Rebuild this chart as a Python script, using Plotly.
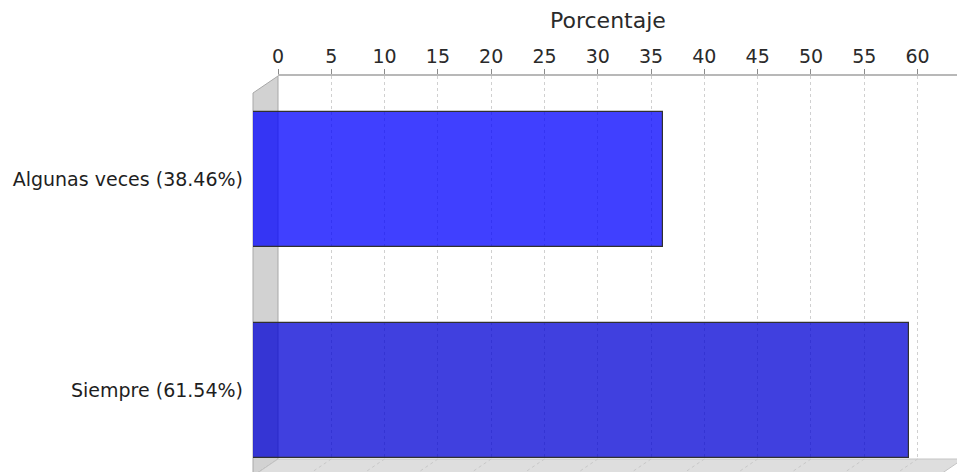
import plotly.graph_objects as go

# Survey answers and their share of responses (%)
answers = ["Algunas veces", "Siempre"]
shares = [38.46, 61.54]
labels = [f"{a} ({v:.2f}%)" for a, v in zip(answers, shares)]
bar_colors = ["rgba(0,0,255,0.75)", "rgba(0,0,212,0.75)"]
tick_values = list(range(0, 61, 5))

W, H = 957, 472

# Back plane (where the value axis and grid live), in pixels
BACK_X0, BACK_X1 = 278, 957
BACK_Y0, BACK_Y1 = 76, 459
# 3D depth offset of the front plane
DX, DY = 25, 17
RMAX = 63.7
PPU = (BACK_X1 - BACK_X0) / RMAX  # pixels per unit


def px(x):
    return x / W


def py(y):
    return 1 - y / H


# Category placement on the front plane (pixel centres / spacing)
FRONT_TOP = BACK_Y0 + DY
C0, STEP = 179.5, 211.0
cat_top = -(C0 - FRONT_TOP) / STEP
cat_bottom = 1 + (H - (C0 + STEP)) / STEP

fig = go.Figure()

# keeps the back-plane subplot alive
fig.add_trace(go.Scatter(x=[], y=[], xaxis="x", yaxis="y", showlegend=False))

fig.add_trace(go.Bar(
    x=shares,
    y=labels,
    orientation="h",
    xaxis="x2",
    yaxis="y2",
    width=0.64,
    marker=dict(color=bar_colors, line=dict(color="#303030", width=1.2)),
    showlegend=False,
    hoverinfo="x+y",
))

font_family = "DejaVu Sans, Verdana, sans-serif"

shapes = []
# left wall
shapes.append(dict(
    type="path", xref="paper", yref="paper", layer="below",
    path=(f"M {px(BACK_X0 - DX)} {py(BACK_Y0 + DY)} L {px(BACK_X0)} {py(BACK_Y0)} "
          f"L {px(BACK_X0)} {py(BACK_Y1)} L {px(BACK_X0 - DX)} {py(BACK_Y1 + DY)} Z"),
    fillcolor="#d2d2d2", line=dict(color="#a8a8a8", width=1),
))
# floor
shapes.append(dict(
    type="path", xref="paper", yref="paper", layer="below",
    path=(f"M {px(BACK_X0)} {py(BACK_Y1)} L {px(BACK_X1 + 6)} {py(BACK_Y1)} "
          f"L {px(BACK_X1 + 6 - DX)} {py(BACK_Y1 + DY)} L {px(BACK_X0 - DX)} {py(BACK_Y1 + DY)} Z"),
    fillcolor="#dedede", line=dict(color="#c4c4c4", width=1),
))
# grid lines continuing across the floor
for t in tick_values:
    shapes.append(dict(
        type="line", xref="x", yref="paper", layer="below",
        x0=t, y0=py(BACK_Y1), x1=t - DX / PPU, y1=py(BACK_Y1 + DY),
        line=dict(color="#c8c8c8", width=1, dash="3px,3px"),
    ))

fig.update_layout(
    template="none",
    width=W,
    height=H,
    margin=dict(l=0, r=0, t=0, b=0, pad=0, autoexpand=False),
    paper_bgcolor="white",
    plot_bgcolor="rgba(0,0,0,0)",
    font=dict(family=font_family, color="#222222"),
    bargap=0,
    showlegend=False,
    xaxis=dict(
        domain=[px(BACK_X0), px(BACK_X1)],
        range=[0, RMAX],
        anchor="y",
        side="top",
        automargin=False,
        tickvals=tick_values,
        ticks="outside",
        ticklen=5,
        tickwidth=1,
        tickcolor="#8c8c8c",
        tickfont=dict(size=19, color="#2a2a2a"),
        ticklabelstandoff=-1,
        showline=True,
        linecolor="#b8b8b8",
        linewidth=1.5,
        showgrid=True,
        gridcolor="#d0d0d0",
        griddash="3px,3px",
        gridwidth=1,
        zeroline=False,
        fixedrange=True,
    ),
    yaxis=dict(
        domain=[py(BACK_Y1), py(BACK_Y0)],
        range=[0, 1],
        anchor="x",
        automargin=False,
        visible=False,
        fixedrange=True,
    ),
    xaxis2=dict(
        domain=[px(BACK_X0 - DX), px(BACK_X1 - DX)],
        range=[0, RMAX],
        anchor="y2",
        automargin=False,
        visible=False,
        fixedrange=True,
    ),
    yaxis2=dict(
        domain=[0, py(FRONT_TOP)],
        type="category",
        range=[cat_bottom, cat_top],
        anchor="x2",
        automargin=False,
        showgrid=False,
        zeroline=False,
        showline=False,
        ticks="",
        ticklabelstandoff=9,
        tickfont=dict(size=19, color="#1e1e1e"),
        fixedrange=True,
    ),
    shapes=shapes,
    annotations=[dict(
        text="Porcentaje",
        xref="paper", yref="paper",
        x=px((BACK_X0 - DX + BACK_X1 + 6) / 2), y=py(21),
        xanchor="center", yanchor="middle",
        showarrow=False,
        font=dict(size=22, color="#2a2a2a", family=font_family),
    )],
)

fig.write_html("out.html")
